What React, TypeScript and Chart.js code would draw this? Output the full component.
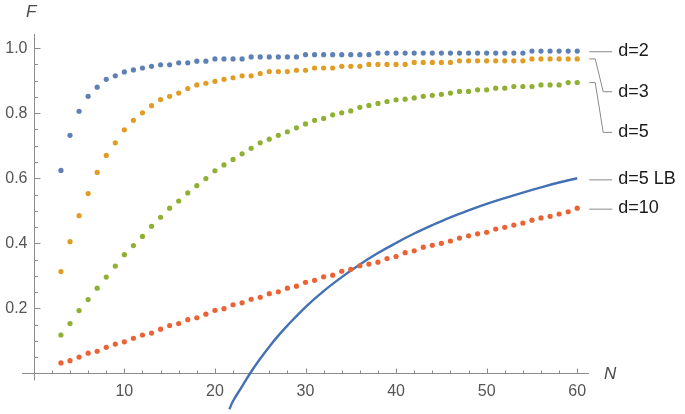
import React, { useEffect, useRef } from 'react';
import { Chart, registerables } from 'chart.js';

Chart.register(...registerables);

// ---------- data ----------
const N = [3, 4, 5, 6, 7, 8, 9, 10, 11, 12, 13, 14, 15, 16, 17, 18, 19, 20, 21, 22, 23, 24, 25, 26, 27, 28, 29, 30, 31, 32, 33, 34, 35, 36, 37, 38, 39, 40, 41, 42, 43, 44, 45, 46, 47, 48, 49, 50, 51, 52, 53, 54, 55, 56, 57, 58, 59, 60];

const d2 = [0.624, 0.732, 0.806, 0.852, 0.880, 0.904, 0.915, 0.927, 0.933, 0.939, 0.944, 0.949, 0.949, 0.955, 0.955, 0.960, 0.960, 0.967, 0.967, 0.967, 0.967, 0.973, 0.973, 0.973, 0.973, 0.973, 0.973, 0.980, 0.980, 0.980, 0.980, 0.980, 0.980, 0.980, 0.980, 0.985, 0.985, 0.985, 0.985, 0.985, 0.985, 0.985, 0.985, 0.985, 0.985, 0.985, 0.985, 0.985, 0.985, 0.985, 0.985, 0.985, 0.991, 0.991, 0.991, 0.991, 0.991, 0.991];

const d3 = [0.313, 0.405, 0.485, 0.553, 0.618, 0.670, 0.709, 0.749, 0.778, 0.801, 0.823, 0.842, 0.852, 0.862, 0.876, 0.887, 0.892, 0.898, 0.904, 0.909, 0.915, 0.915, 0.922, 0.928, 0.928, 0.928, 0.932, 0.932, 0.939, 0.939, 0.939, 0.944, 0.944, 0.944, 0.950, 0.950, 0.950, 0.950, 0.950, 0.956, 0.956, 0.956, 0.956, 0.956, 0.961, 0.961, 0.961, 0.961, 0.961, 0.961, 0.961, 0.961, 0.967, 0.967, 0.967, 0.967, 0.967, 0.967];

const d5 = [0.118, 0.153, 0.193, 0.227, 0.262, 0.296, 0.330, 0.365, 0.393, 0.421, 0.452, 0.480, 0.508, 0.530, 0.555, 0.577, 0.599, 0.623, 0.641, 0.658, 0.675, 0.692, 0.709, 0.720, 0.732, 0.743, 0.755, 0.767, 0.778, 0.784, 0.795, 0.801, 0.807, 0.818, 0.824, 0.830, 0.836, 0.841, 0.843, 0.847, 0.852, 0.855, 0.858, 0.862, 0.867, 0.867, 0.872, 0.872, 0.877, 0.877, 0.882, 0.882, 0.882, 0.887, 0.887, 0.887, 0.894, 0.894];

const d10 = [0.032, 0.039, 0.050, 0.062, 0.068, 0.080, 0.090, 0.097, 0.108, 0.118, 0.124, 0.136, 0.147, 0.153, 0.165, 0.171, 0.182, 0.194, 0.199, 0.211, 0.217, 0.228, 0.234, 0.245, 0.251, 0.262, 0.268, 0.280, 0.286, 0.297, 0.302, 0.314, 0.320, 0.331, 0.336, 0.342, 0.353, 0.359, 0.371, 0.377, 0.388, 0.394, 0.400, 0.407, 0.416, 0.423, 0.429, 0.434, 0.444, 0.449, 0.456, 0.462, 0.471, 0.478, 0.483, 0.490, 0.497, 0.508];

// lower bound curve d=5 LB
const lbN = [21.6, 22, 23, 24, 25, 26, 27, 28, 30, 32, 34, 36, 38, 40, 42, 44, 46, 48, 50, 52, 54, 56, 58, 60];
const lbF = [-0.11, -0.085, -0.04, 0.005, 0.045, 0.082, 0.116, 0.147, 0.204, 0.253, 0.296, 0.335, 0.370, 0.401, 0.430, 0.456, 0.480, 0.501, 0.521, 0.539, 0.556, 0.572, 0.587, 0.600];

const xTickLabels = ['10', '20', '30', '40', '50', '60'];
const yTickLabels = ['0.2', '0.4', '0.6', '0.8', '1.0'];
const seriesLabels = ['d=2', 'd=3', 'd=5', 'd=5 LB', 'd=10'];

// ---------- styles / layout ----------
const COLORS = ['#5E81B5', '#E19C24', '#8FB032', '#4470B4', '#EB6235'];
const LABEL_ANCHORS = [0.992, 0.866, 0.741, 0.598, 0.508]; // y value where each label sits
const AXIS_COLOR = '#8c8c8c';
const TICK_TEXT = '#555555';
const FONT = '"Liberation Sans", Arial, sans-serif';

const mmaPlugin = {
  id: 'mmaAxes',
  beforeDatasetsDraw(chart: any) {
    const { ctx, scales } = chart;
    const x = scales.x;
    const y = scales.y;
    const x0 = Math.round(x.getPixelForValue(0)) + 0.5;
    const y0 = Math.round(y.getPixelForValue(0)) + 0.5;
    ctx.save();
    ctx.strokeStyle = AXIS_COLOR;
    ctx.lineWidth = 1;
    ctx.beginPath();
    ctx.moveTo(x.left, y0);
    ctx.lineTo(x.right, y0);
    ctx.moveTo(x0, y.top);
    ctx.lineTo(x0, y.getPixelForValue(-0.022));
    ctx.stroke();

    ctx.beginPath();
    for (let v = 2; v <= 60; v += 2) {
      const px = Math.round(x.getPixelForValue(v)) + 0.5;
      const len = v % 10 === 0 ? 5 : 3;
      ctx.moveTo(px, y0);
      ctx.lineTo(px, y0 - len);
    }
    for (let k = 1; k <= 20; k++) {
      const v = k * 0.05;
      const py = Math.round(y.getPixelForValue(v)) + 0.5;
      const len = k % 4 === 0 ? 6 : 3.5;
      ctx.moveTo(x0, py);
      ctx.lineTo(x0 + len, py);
    }
    ctx.stroke();

    ctx.fillStyle = TICK_TEXT;
    ctx.font = '16px ' + FONT;
    ctx.textAlign = 'center';
    ctx.textBaseline = 'middle';
    xTickLabels.forEach((t) => {
      ctx.fillText(t, x.getPixelForValue(parseFloat(t)), y0 + 18);
    });
    ctx.textAlign = 'right';
    yTickLabels.forEach((t) => {
      ctx.fillText(t, x0 - 7, y.getPixelForValue(parseFloat(t)) + 0.5);
    });

    ctx.font = 'italic 17px ' + FONT;
    ctx.fillStyle = '#4a4a4a';
    ctx.textAlign = 'left';
    ctx.fillText('F', 26, 12);
    ctx.fillText('N', 604, y0 + 1);
    ctx.restore();
  },
  afterDatasetsDraw(chart: any) {
    const { ctx, scales } = chart;
    const x = scales.x;
    const y = scales.y;
    const ends = [d2[d2.length - 1], d3[d3.length - 1], d5[d5.length - 1], lbF[lbF.length - 1], d10[d10.length - 1]];
    const xs = x.getPixelForValue(60) + 12;
    ctx.save();
    ctx.strokeStyle = '#8a8a8a';
    ctx.lineWidth = 1;
    seriesLabels.forEach((label, i) => {
      const ye = y.getPixelForValue(ends[i]);
      const yl = y.getPixelForValue(LABEL_ANCHORS[i]);
      ctx.beginPath();
      if (Math.abs(ye - yl) < 4) {
        ctx.moveTo(xs, yl + 1);
        ctx.lineTo(xs + 23, yl + 1);
      } else {
        ctx.moveTo(xs, ye);
        ctx.lineTo(xs + 6, ye);
        ctx.lineTo(xs + 14, yl);
        ctx.lineTo(xs + 23, yl);
      }
      ctx.stroke();
      ctx.fillStyle = '#1a1a1a';
      ctx.font = '18px ' + FONT;
      ctx.textAlign = 'left';
      ctx.textBaseline = 'middle';
      ctx.fillText(label, xs + 29, yl);
    });
    ctx.restore();
  },
};

export default function App() {
  const ref = useRef<HTMLCanvasElement | null>(null);
  useEffect(() => {
    if (!ref.current) return;
    const dots = (vals: number[]) => N.map((n, i) => ({ x: n, y: vals[i] }));
    const dotSet = (label: string, vals: number[], color: string) => ({
      label,
      type: 'scatter' as const,
      data: dots(vals),
      showLine: false,
      pointRadius: 2.6,
      pointBorderWidth: 0,
      pointBackgroundColor: color,
      backgroundColor: color,
      borderColor: color,
    });
    const chart = new Chart(ref.current, {
      type: 'scatter',
      data: {
        datasets: [
          dotSet(seriesLabels[0], d2, COLORS[0]),
          dotSet(seriesLabels[1], d3, COLORS[1]),
          dotSet(seriesLabels[2], d5, COLORS[2]),
          dotSet(seriesLabels[4], d10, COLORS[4]),
          {
            label: seriesLabels[3],
            type: 'line' as const,
            data: lbN.map((n, i) => ({ x: n, y: lbF[i] })),
            showLine: true,
            borderColor: COLORS[3],
            borderWidth: 2.4,
            pointRadius: 0,
            fill: false,
            tension: 0.4,
          },
        ] as any,
      },
      options: {
        responsive: false,
        animation: false,
        devicePixelRatio: 1,
        layout: { padding: { left: 22, right: 96, top: 34, bottom: 0 } },
        plugins: { legend: { display: false }, tooltip: { enabled: false }, title: { display: false } },
        events: [],
        scales: {
          x: { type: 'linear', min: -1.3, max: 61.3, display: false },
          y: { type: 'linear', min: -0.1126, max: 1.0435, display: false },
        },
      },
      plugins: [mmaPlugin],
    });
    return () => chart.destroy();
  }, []);
  return (
    <div style={{ position: 'fixed', left: 0, top: 0, width: 685, height: 414, background: '#fff' }}>
      <canvas ref={ref} width={685} height={414} style={{ display: 'block' }} />
    </div>
  );
}
